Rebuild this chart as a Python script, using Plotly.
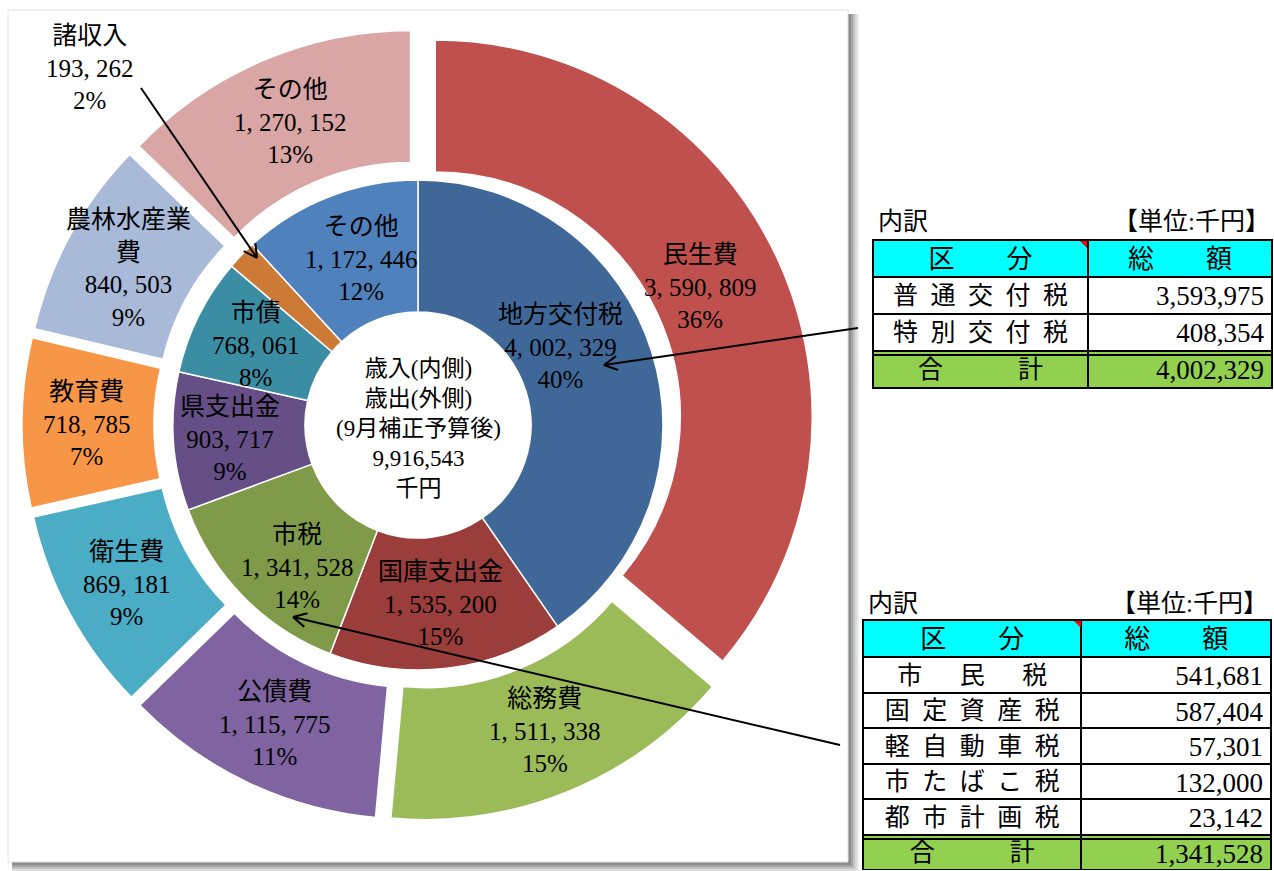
import math
import plotly.graph_objects as go

W, H = 1274, 871

# ---------------- data ----------------
out_labels = ["民生費", "総務費", "公債費", "衛生費", "教育費", "農林水産業<br>費", "その他"]
out_values = [3590809, 1511338, 1115775, 869181, 718785, 840503, 1270152]
out_pcts = [36, 15, 11, 9, 7, 9, 13]
out_colors = ["#C0504D", "#9BBB59", "#8064A2", "#4BACC6", "#F79646", "#A9B9D8", "#D9A6A5"]

in_labels = ["地方交付税", "国庫支出金", "市税", "県支出金", "市債", "諸収入", "その他"]
in_values = [4002329, 1535200, 1341528, 903717, 768061, 193262, 1172446]
in_pcts = [40, 15, 14, 9, 8, 2, 12]
in_colors = ["#3F6899", "#9B3E3B", "#7F9A48", "#664F87", "#3B8DA3", "#CC7A35", "#4F81BD"]

center_lines = ["歳入(内側)", "歳出(外側)", "(9月補正予算後)", "9,916,543", "千円"]

t1_names = ["普\u2002通\u2002交\u2002付\u2002税", "特\u2002別\u2002交\u2002付\u2002税", "合　　　計"]
t1_values = [3593975, 408354, 4002329]
t2_names = ["市　\u2002民　\u2002税", "固\u2002定\u2002資\u2002産\u2002税", "軽\u2002自\u2002動\u2002車\u2002税",
            "市\u2002た\u2002ば\u2002こ\u2002税", "都\u2002市\u2002計\u2002画\u2002税", "合　　　計"]
t2_values = [541681, 587404, 57301, 132000, 23142, 1341528]

# ---------------- layout geometry (pixels) ----------------
CX, CY = 418, 425
R_OUT, R_IN, R_HOLE = 377, 245, 113
PULL_PX = 19

FONT = "Liberation Serif, Noto Sans CJK JP, serif"


def px(x):
    return x / W


def py(y):
    return 1 - y / H


def fmt(v):
    return f"{v:,}"


def fmt_label(v):
    return f"{v:,}".replace(",", ", ")


pull = PULL_PX / R_OUT
half_out = R_OUT * (1 + pull)

fig = go.Figure()

fig.add_trace(go.Pie(
    labels=[l.replace("<br>", "") for l in out_labels], values=out_values,
    sort=False, direction="clockwise", rotation=0,
    hole=R_IN / R_OUT, pull=[pull] * len(out_values),
    marker=dict(colors=out_colors, line=dict(color="white", width=1.5)),
    textinfo="none", hoverinfo="label+value+percent", showlegend=False,
    domain=dict(x=[px(CX - half_out), px(CX + half_out)],
                y=[py(CY + half_out), py(CY - half_out)]),
))

fig.add_trace(go.Pie(
    labels=in_labels, values=in_values,
    sort=False, direction="clockwise", rotation=0,
    hole=R_HOLE / R_IN,
    marker=dict(colors=in_colors, line=dict(color="white", width=1.5)),
    textinfo="none", hoverinfo="label+value+percent", showlegend=False,
    domain=dict(x=[px(CX - R_IN), px(CX + R_IN)],
                y=[py(CY + R_IN), py(CY - R_IN)]),
))

# ---------------- tables ----------------
fig.add_trace(go.Table(
    domain=dict(x=[px(873), px(1272)], y=[py(400), py(240)]),
    columnwidth=[215, 184],
    header=dict(values=["区　　分", "総　　額"], fill_color="#00FFFF",
                line=dict(color="black", width=2), align="center",
                font=dict(family=FONT, size=26, color="black"), height=37),
    cells=dict(values=[t1_names, [fmt(v) for v in t1_values]],
               fill_color=[["white", "white", "#92D050"], ["white", "white", "#92D050"]],
               line=dict(color="black", width=2), align=["center", "right"],
               font=dict(family=FONT, size=[25, 27], color="black"), height=37),
))

fig.add_trace(go.Table(
    domain=dict(x=[px(863), px(1272)], y=[0, py(620)]),
    columnwidth=[219, 190],
    header=dict(values=["区　　分", "総　　額"], fill_color="#00FFFF",
                line=dict(color="black", width=2), align="center",
                font=dict(family=FONT, size=26, color="black"), height=37),
    cells=dict(values=[t2_names, [fmt(v) for v in t2_values]],
               fill_color=[["white"] * 5 + ["#92D050"], ["white"] * 5 + ["#92D050"]],
               line=dict(color="black", width=2), align=["center", "right"],
               font=dict(family=FONT, size=[25, 27], color="black"), height=35.5),
))

# ---------------- annotations (labels) ----------------
ann = []
out_pos = [(700, 287), (545, 731), (275, 724), (127, 584), (87, 424), (128, 268), (290, 122)]
in_pos = [(560, 347), (440, 604), (297, 567), (230, 439), (256, 345), (90, 68), (362, 259)]

for lab, v, p, (x, y) in zip(out_labels, out_values, out_pcts, out_pos):
    ann.append(dict(x=px(x), y=py(y), xref="paper", yref="paper", showarrow=False,
                    xanchor="center", yanchor="middle",
                    text=f"{lab}<br>{fmt_label(v)}<br>{p}%", align="center",
                    font=dict(family=FONT, size=25, color="black")))
for lab, v, p, (x, y) in zip(in_labels, in_values, in_pcts, in_pos):
    ann.append(dict(x=px(x), y=py(y), xref="paper", yref="paper", showarrow=False,
                    xanchor="center", yanchor="middle",
                    text=f"{lab}<br>{fmt_label(v)}<br>{p}%", align="center",
                    font=dict(family=FONT, size=25, color="black")))

ann.append(dict(x=px(CX), y=py(428), xref="paper", yref="paper", showarrow=False,
                xanchor="center", yanchor="middle",
                text="<br>".join(center_lines), align="center",
                font=dict(family=FONT, size=23, color="black")))

# table titles
for (lx, rx, ty) in [(876, 1272, 222), (866, 1270, 603)]:
    ann.append(dict(x=px(lx), y=py(ty), xref="paper", yref="paper", showarrow=False,
                    xanchor="left", yanchor="middle", text="内訳",
                    font=dict(family=FONT, size=25, color="black")))
    ann.append(dict(x=px(rx), y=py(ty), xref="paper", yref="paper", showarrow=False,
                    xanchor="right", yanchor="middle", text="【単位:千円】",
                    font=dict(family=FONT, size=25, color="black")))

# ---------------- shapes ----------------
shapes = []
# chart frame with shadow
for i, g in enumerate(["#8C8C8C", "#A6A6A6", "#C2C2C2", "#DADADA", "#ECECEC"]):
    shapes.append(dict(type="rect", xref="paper", yref="paper",
                       x0=px(12), x1=px(849 + 2 * (i + 1)), y0=py(863 + 2 * (i + 1)), y1=py(14),
                       fillcolor=g, line=dict(width=0), layer="below"))
shapes = shapes[::-1]
shapes.append(dict(type="rect", xref="paper", yref="paper",
                   x0=px(8), x1=px(848), y0=py(862), y1=py(10),
                   fillcolor="white", line=dict(color="#E4E4E4", width=1), layer="below"))


def arrow(tail, head, length=15, ang=28):
    (tx, ty), (hx, hy) = tail, head
    d = math.hypot(hx - tx, hy - ty)
    ux, uy = (hx - tx) / d, (hy - ty) / d
    res = [dict(type="line", xref="paper", yref="paper", x0=px(tx), y0=py(ty), x1=px(hx), y1=py(hy),
                line=dict(color="black", width=2))]
    for s in (1, -1):
        a = math.radians(ang * s)
        vx = ux * math.cos(a) - uy * math.sin(a)
        vy = ux * math.sin(a) + uy * math.cos(a)
        res.append(dict(type="line", xref="paper", yref="paper", x0=px(hx), y0=py(hy),
                        x1=px(hx - length * vx), y1=py(hy - length * vy),
                        line=dict(color="black", width=2)))
    return res


shapes += arrow((141, 88), (257, 258))
shapes += arrow((858, 328), (604, 365))
shapes += arrow((840, 745), (293, 617))

# double line before total rows & comment markers
shapes.append(dict(type="line", xref="paper", yref="paper", x0=px(873), x1=px(1272),
                   y0=py(355), y1=py(355), line=dict(color="black", width=2)))
shapes.append(dict(type="line", xref="paper", yref="paper", x0=px(863), x1=px(1272),
                   y0=py(839), y1=py(839), line=dict(color="black", width=2)))
shapes.append(dict(type="path", xref="paper", yref="paper",
                   path=f"M {px(1080)},{py(241)} L {px(1087)},{py(241)} L {px(1087)},{py(248)} Z",
                   fillcolor="red", line=dict(width=0)))
shapes.append(dict(type="path", xref="paper", yref="paper",
                   path=f"M {px(1074)},{py(621)} L {px(1081)},{py(621)} L {px(1081)},{py(628)} Z",
                   fillcolor="red", line=dict(width=0)))

fig.update_layout(
    width=W, height=H, margin=dict(l=0, r=0, t=0, b=0),
    paper_bgcolor="white", plot_bgcolor="white",
    annotations=ann, shapes=shapes, showlegend=False,
)

fig.write_html("out.html", config={"displayModeBar": False},
               post_script="document.body.style.margin='0';document.body.style.overflow='hidden';")
